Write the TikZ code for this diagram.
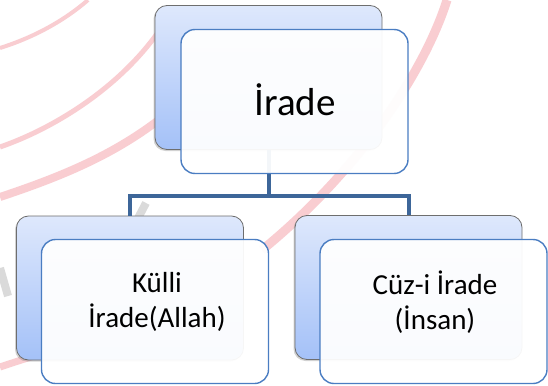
\documentclass[tikz,border=0pt]{standalone}
\usepackage{fontspec}
\setmainfont{Carlito}
\usetikzlibrary{shadows}
\definecolor{backtop}{HTML}{DEE8FC}
\definecolor{backbot}{HTML}{A4C1F8}
\definecolor{backline}{HTML}{6E6E6E}
\definecolor{frontline}{HTML}{4A7DC2}
\definecolor{connc}{HTML}{3D6699}
\definecolor{wmpink}{HTML}{F9CDD1}
\definecolor{wmgrey}{HTML}{DADADA}
\tikzset{
  backbox/.style={rectangle, rounded corners=12pt, minimum width=227pt, minimum height=144pt,
    inner sep=0pt, draw=backline, line width=0.8pt, top color=backtop, bottom color=backbot,
    drop shadow={shadow xshift=-1.5pt, shadow yshift=-1.5pt, opacity=0.35}},
  frontbox/.style={rectangle, rounded corners=14pt, minimum width=227pt, minimum height=144pt,
    inner sep=0pt, draw=frontline, line width=1.4pt, fill=white, fill opacity=0.94, draw opacity=1},
  conn/.style={draw=connc, line width=4pt},
  wm/.style={draw=wmpink},
  bigtext/.style={font=\fontsize{39}{47}\selectfont, inner sep=0pt},
  smalltext/.style={font=\fontsize{29}{35}\selectfont, align=center, inner sep=0pt},
}
\begin{document}
\begin{tikzpicture}[x=1pt,y=-1pt]
\useasboundingbox[fill=white] (0,0) rectangle (548,385);
% watermark
\draw[wm, line width=4pt] (0,48) .. controls (35,37) and (65,20) .. (88,0);
\draw[wm, line width=5pt] (0,147) .. controls (55,128) and (125,85) .. (165,22);
\draw[wm, line width=8pt] (0,197) .. controls (60,177) and (115,155) .. (165,115);
\draw[wm, line width=9pt] (447,0) .. controls (425,70) and (360,170) .. (262,250);
\draw[wm, line width=7pt] (0,367) .. controls (15,362) and (30,357) .. (48,352);
\draw[draw=wmgrey, line width=8pt] (0,268) -- (8,296);
\draw[draw=wmgrey, line width=8pt] (146,203) -- (136,222);
% back boxes
\node[backbox] (topback) at (268.5,77.5) {};
\node[backbox] (leftback) at (130,288) {};
\node[backbox] (rightback) at (408.5,287.5) {};
% connectors
\draw[conn] (topback.south) -- (topback.south |- 0,196);
\draw[conn] (leftback.north) |- (topback.south |- 0,196) -| (rightback.north);
% front boxes
\node[frontbox] (top) at (294.5,101.5) {};
\node[frontbox] (left) at (155,311.5) {};
\node[frontbox] (right) at (433.5,311.5) {};
% texts
\node[bigtext, anchor=base] (toptext) at (295,115) {İrade};
\node[smalltext] (lefttext) at (157,302) {Külli\\İrade(Allah)};
\node[smalltext] (righttext) at (435,302) {Cüz-i İrade\\(İnsan)};
\end{tikzpicture}
\end{document}
